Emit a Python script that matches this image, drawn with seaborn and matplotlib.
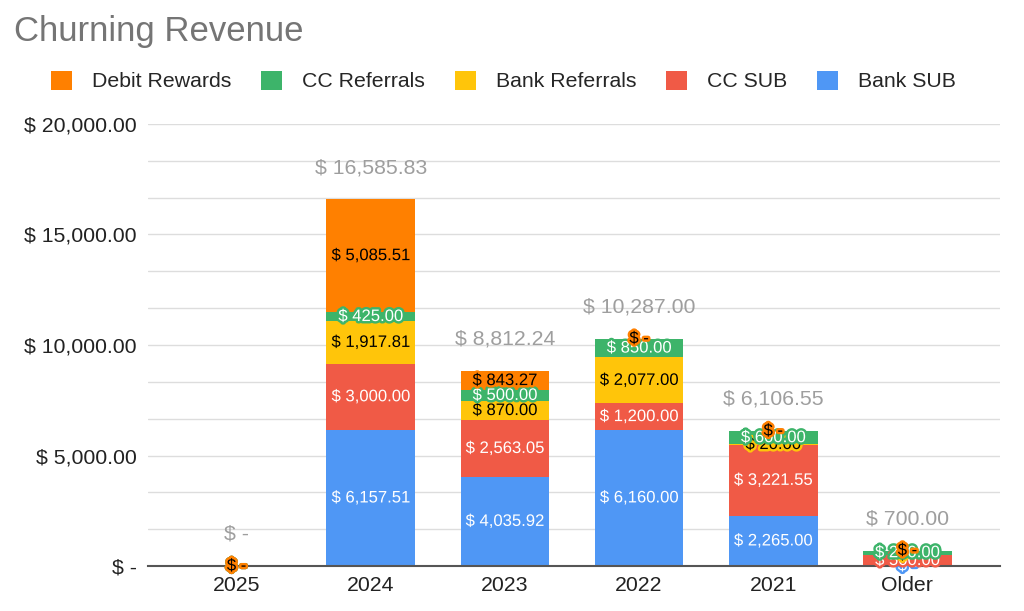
import numpy as np
import pandas as pd
import matplotlib
matplotlib.use("Agg")
import matplotlib.pyplot as plt
import matplotlib.patheffects as pe
from matplotlib.patches import Patch
from matplotlib.ticker import FuncFormatter, MultipleLocator
import seaborn as sns

sns.set_style("white")
plt.rcParams['font.family'] = ['Liberation Sans', 'DejaVu Sans']

# data, bottom of the stack first
years = ["2025", "2024", "2023", "2022", "2021", "Older"]
bank_sub = [0, 6157.51, 4035.92, 6160.00, 2265.00, 0]
cc_sub = [0, 3000.00, 2563.05, 1200.00, 3221.55, 500.00]
bank_ref = [0, 1917.81, 870.00, 2077.00, 20.00, 0]
cc_ref = [0, 425.00, 500.00, 850.00, 600.00, 200.00]
debit = [0, 5085.51, 843.27, 0, 0, 0]

series = ["Bank SUB", "CC SUB", "Bank Referrals", "CC Referrals", "Debit Rewards"]
colors = {"Bank SUB": "#4F97F5", "CC SUB": "#F05A46", "Bank Referrals": "#FFC50A",
          "CC Referrals": "#3DB46A", "Debit Rewards": "#FF8000"}
txt_colors = {"Bank SUB": "white", "CC SUB": "white", "Bank Referrals": "black",
              "CC Referrals": "white", "Debit Rewards": "black"}

df = pd.DataFrame({"year": years, "Bank SUB": bank_sub, "CC SUB": cc_sub,
                   "Bank Referrals": bank_ref, "CC Referrals": cc_ref,
                   "Debit Rewards": debit})
cum = df[series].cumsum(axis=1)
cum["year"] = df["year"]
totals = df[series].sum(axis=1)


def money(v, pos=None):
    if abs(v) < 1e-9:
        return "$ -"
    return "$ {:,.2f}".format(v)


fs = 15.3
fig = plt.figure(figsize=(10.24, 6.11), dpi=100)
ax = fig.add_axes([148/1024, 1-566/611, (1000-148)/1024, (566-124)/611])

# stacked bars: draw the cumulative heights from the top layer down
for s in series[::-1]:
    sns.barplot(data=cum, x="year", y=s, order=years, color=colors[s],
                saturation=1, width=0.66, ax=ax, linewidth=0)

# segment labels, later series on top
z = 5
for s in series:
    for i, y in enumerate(years):
        v = df.loc[i, s]
        top = cum.loc[i, s]
        mid = top - v / 2
        ax.text(i, mid, money(v), ha="center", va="center", fontsize=12,
                color=txt_colors[s], zorder=z,
                path_effects=[pe.Stroke(linewidth=3.5, foreground=colors[s]), pe.Normal()])
    z += 1

# totals
for i, t in enumerate(totals):
    ax.annotate(money(t), (i, t), xytext=(0, 23), textcoords="offset points",
                ha="center", va="center", fontsize=fs, color="#9E9E9E")

ax.set_ylim(0, 20000)
ax.set_xlim(-0.66, 5.69)
ax.yaxis.set_major_locator(MultipleLocator(5000))
ax.yaxis.set_minor_locator(MultipleLocator(5000/3))
ax.yaxis.set_major_formatter(FuncFormatter(money))
ax.set_axisbelow(True)
ax.grid(axis="y", which="both", color="#DDDDDD", linewidth=1)
ax.tick_params(axis="y", which="both", length=0, pad=8, labelsize=fs, labelcolor="#222222")
ax.tick_params(axis="x", length=0, pad=7, labelsize=fs, labelcolor="#222222")
for sp in ["top", "right", "left"]:
    ax.spines[sp].set_visible(False)
ax.spines["bottom"].set_color("#555555")
ax.spines["bottom"].set_linewidth(1.5)
ax.set_xlabel("")
ax.set_ylabel("")

fig.text(14/1024, 1-31/611, "Churning Revenue", fontsize=25, color="#757575",
         ha="left", va="center")

handles = [Patch(facecolor=colors[s], edgecolor="none", label=s) for s in series[::-1]]
fig.legend(handles=handles, loc="center left", bbox_to_anchor=(51/1024, 1-81/611),
           ncol=5, frameon=False, fontsize=fs, handlelength=0.99, handleheight=0.99,
           handletextpad=0.94, columnspacing=1.4, borderaxespad=0, borderpad=0)

fig.savefig("out.png", dpi=100)
